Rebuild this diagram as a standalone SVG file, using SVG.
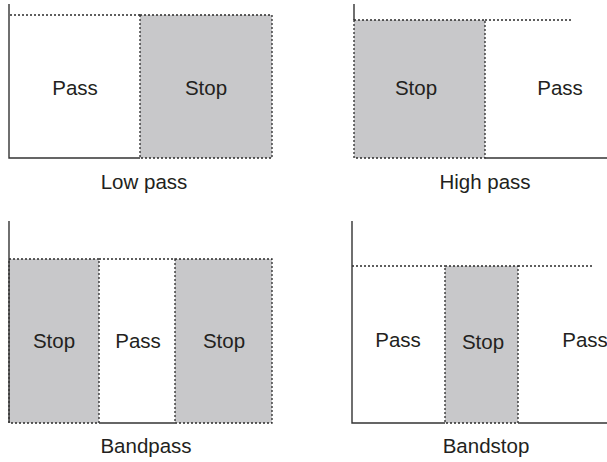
<svg xmlns="http://www.w3.org/2000/svg" width="607" height="462" viewBox="0 0 607 462">
<style>
.axis{stroke:#333;stroke-width:1.4;fill:none}
.dash{stroke:#2a2a2a;stroke-width:1.3;stroke-dasharray:2 2;fill:none}
.stop{fill:#c8c8ca;stroke:#2a2a2a;stroke-width:1.3;stroke-dasharray:2 2}
.lbl{font-family:"Liberation Sans",Arial,sans-serif;font-size:20.5px;fill:#231f20;text-anchor:middle}
</style>
<rect width="607" height="462" fill="#fff"/>
<g id="lowpass">
<rect class="stop" x="140" y="15" width="132" height="143"/>
<line class="dash" x1="10" y1="15" x2="140" y2="15"/>
<polyline class="axis" points="9,4 9,158 140,158"/>
<text class="lbl" x="75" y="95">Pass</text>
<text class="lbl" x="206" y="95">Stop</text>
<text class="lbl" x="144" y="189">Low pass</text>
</g>
<g id="highpass">
<rect class="stop" x="354" y="20" width="131" height="138"/>
<line class="dash" x1="485" y1="20" x2="573" y2="20"/>
<line class="axis" x1="354" y1="4" x2="354" y2="20"/>
<line class="axis" x1="485" y1="158" x2="607" y2="158"/>
<text class="lbl" x="416" y="95">Stop</text>
<text class="lbl" x="560" y="95">Pass</text>
<text class="lbl" x="485" y="189">High pass</text>
</g>
<g id="bandpass">
<rect class="stop" x="9" y="259" width="90" height="164"/>
<rect class="stop" x="175" y="259" width="97" height="164"/>
<line class="dash" x1="99" y1="259" x2="175" y2="259"/>
<line class="axis" x1="9" y1="221" x2="9" y2="423"/>
<line class="axis" x1="99" y1="423" x2="175" y2="423"/>
<text class="lbl" x="54" y="348">Stop</text>
<text class="lbl" x="138" y="348">Pass</text>
<text class="lbl" x="224" y="348">Stop</text>
<text class="lbl" x="146" y="453">Bandpass</text>
</g>
<g id="bandstop">
<rect class="stop" x="445" y="266" width="73" height="157"/>
<line class="dash" x1="352" y1="266" x2="445" y2="266"/>
<line class="dash" x1="518" y1="266" x2="593" y2="266"/>
<polyline class="axis" points="352,221 352,423 445,423"/>
<line class="axis" x1="518" y1="423" x2="607" y2="423"/>
<text class="lbl" x="398" y="347">Pass</text>
<text class="lbl" x="483" y="349">Stop</text>
<text class="lbl" x="585" y="347">Pass</text>
<text class="lbl" x="486" y="453">Bandstop</text>
</g>
</svg>
